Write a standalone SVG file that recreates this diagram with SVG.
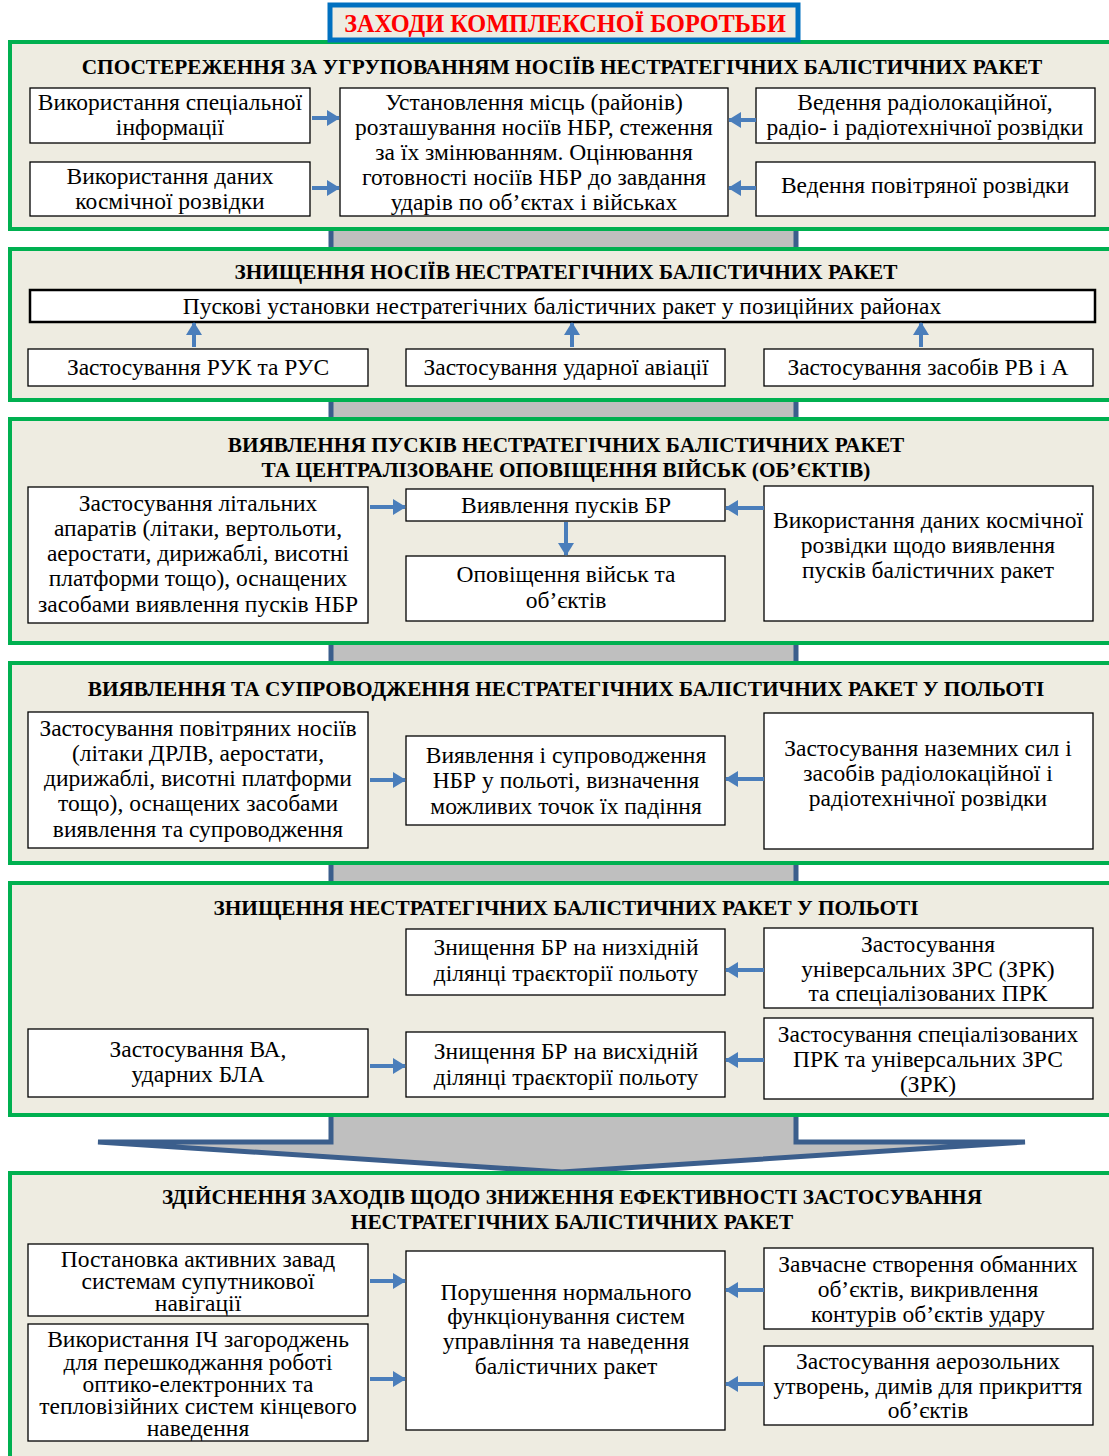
<svg xmlns="http://www.w3.org/2000/svg" width="1109" height="1456" viewBox="0 0 1109 1456">
<defs>
<style>
.panel{fill:#EEECE1;stroke:#00B050;stroke-width:4}
.box{fill:#fff;stroke:#000;stroke-width:1.3}
.t{font-family:"Liberation Serif","Times New Roman",serif;font-size:23.5px;text-anchor:middle;fill:#000}
.h{font-family:"Liberation Serif","Times New Roman",serif;font-size:21.3px;font-weight:bold;text-anchor:middle;fill:#000}
.c{stroke:#4A7EBB;stroke-width:4;fill:none;marker-end:url(#ah)}
</style>
<marker id="ah" markerUnits="userSpaceOnUse" markerWidth="14" markerHeight="16" refX="12" refY="8" orient="auto">
<path d="M0,0 L13,8 L0,16 Z" fill="#4A7EBB"/>
</marker>
</defs>
<rect width="1109" height="1456" fill="#fff"/>
<g id="shaft">
<path d="M331,40 L331,1142 L98,1142 L562,1172 L1025,1142 L796,1142 L796,40 Z" fill="#BFBFBF" stroke="#3B5E8C" stroke-width="5" stroke-linejoin="miter"/>
</g>
<g id="panel1">
<rect class="panel" x="10" y="42" width="1110" height="187"/>
<text class="h" x="562" y="74">СПОСТЕРЕЖЕННЯ ЗА УГРУПОВАННЯМ НОСІЇВ НЕСТРАТЕГІЧНИХ БАЛІСТИЧНИХ РАКЕТ</text>
</g>
<g id="title">
<rect x="330" y="5" width="468" height="35" fill="#EEECE1" stroke="#0070C0" stroke-width="5"/>
<text x="565" y="32" font-family="Liberation Serif, Times New Roman, serif" font-size="24.3" font-weight="bold" fill="#FF0000" text-anchor="middle">ЗАХОДИ КОМПЛЕКСНОЇ БОРОТЬБИ</text>
</g>
<g id="n1a"><rect class="box" x="30" y="88" width="280" height="55"/><text class="t" x="170" y="110">Використання спеціальної</text><text class="t" x="170" y="135">інформації</text></g>
<g id="n1b"><rect class="box" x="30" y="162" width="280" height="54"/><text class="t" x="170" y="184">Використання даних</text><text class="t" x="170" y="209">космічної розвідки</text></g>
<g id="n1c"><rect class="box" x="340" y="88" width="388" height="128"/>
<text class="t" x="534" y="110">Установлення місць (районів)</text>
<text class="t" x="534" y="135">розташування носіїв НБР, стеження</text>
<text class="t" x="534" y="160">за їх змінюванням. Оцінювання</text>
<text class="t" x="534" y="185">готовності носіїв НБР до завдання</text>
<text class="t" x="534" y="210">ударів по об’єктах і військах</text></g>
<g id="n1d"><rect class="box" x="756" y="88" width="339" height="55"/><text class="t" x="925" y="110">Ведення радіолокаційної,</text><text class="t" x="925" y="135">радіо- і радіотехнічної розвідки</text></g>
<g id="n1e"><rect class="box" x="756" y="162" width="339" height="54"/><text class="t" x="925" y="193">Ведення повітряної розвідки</text></g>

<g id="panel2">
<rect class="panel" x="10" y="249" width="1110" height="151"/>
<text class="h" x="566" y="279">ЗНИЩЕННЯ НОСІЇВ НЕСТРАТЕГІЧНИХ БАЛІСТИЧНИХ РАКЕТ</text>
</g>
<g id="n2a"><rect x="30" y="290" width="1065" height="32" fill="#fff" stroke="#000" stroke-width="2.5"/><text class="t" x="562" y="314">Пускові установки нестратегічних балістичних ракет у позиційних районах</text></g>
<g id="n2b"><rect class="box" x="28" y="349" width="340" height="37"/><text class="t" x="198" y="375">Застосування РУК та РУС</text></g>
<g id="n2c"><rect class="box" x="406" y="349" width="319" height="37"/><text class="t" x="566" y="375">Застосування ударної авіації</text></g>
<g id="n2d"><rect class="box" x="764" y="349" width="329" height="37"/><text class="t" x="928" y="375">Застосування засобів РВ і А</text></g>

<g id="panel3">
<rect class="panel" x="10" y="419" width="1110" height="224"/>
<text class="h" x="566" y="452">ВИЯВЛЕННЯ ПУСКІВ НЕСТРАТЕГІЧНИХ БАЛІСТИЧНИХ РАКЕТ</text>
<text class="h" x="566" y="477">ТА ЦЕНТРАЛІЗОВАНЕ ОПОВІЩЕННЯ ВІЙСЬК (ОБ’ЄКТІВ)</text>
</g>
<g id="n3a"><rect class="box" x="28" y="487" width="340" height="136"/>
<text class="t" x="198" y="511">Застосування літальних</text>
<text class="t" x="198" y="536">апаратів (літаки, вертольоти,</text>
<text class="t" x="198" y="561">аеростати, дирижаблі, висотні</text>
<text class="t" x="198" y="586">платформи тощо), оснащених</text>
<text class="t" x="198" y="612">засобами виявлення пусків НБР</text></g>
<g id="n3b"><rect class="box" x="406" y="489" width="319" height="32"/><text class="t" x="566" y="513">Виявлення пусків БР</text></g>
<g id="n3c"><rect class="box" x="406" y="556" width="319" height="65"/><text class="t" x="566" y="582">Оповіщення військ та</text><text class="t" x="566" y="608">об’єктів</text></g>
<g id="n3d"><rect class="box" x="764" y="486" width="329" height="135"/>
<text class="t" x="928" y="528">Використання даних космічної</text>
<text class="t" x="928" y="553">розвідки щодо виявлення</text>
<text class="t" x="928" y="578">пусків балістичних ракет</text></g>

<g id="panel4">
<rect class="panel" x="10" y="663" width="1110" height="200"/>
<text class="h" x="566" y="696">ВИЯВЛЕННЯ ТА СУПРОВОДЖЕННЯ НЕСТРАТЕГІЧНИХ БАЛІСТИЧНИХ РАКЕТ У ПОЛЬОТІ</text>
</g>
<g id="n4a"><rect class="box" x="28" y="712" width="340" height="136"/>
<text class="t" x="198" y="736">Застосування повітряних носіїв</text>
<text class="t" x="198" y="761">(літаки ДРЛВ, аеростати,</text>
<text class="t" x="198" y="786">дирижаблі, висотні платформи</text>
<text class="t" x="198" y="811">тощо), оснащених засобами</text>
<text class="t" x="198" y="837">виявлення та супроводження</text></g>
<g id="n4b"><rect class="box" x="406" y="736" width="319" height="89"/>
<text class="t" x="566" y="763">Виявлення і супроводження</text>
<text class="t" x="566" y="788">НБР у польоті, визначення</text>
<text class="t" x="566" y="814">можливих точок їх падіння</text></g>
<g id="n4c"><rect class="box" x="764" y="713" width="329" height="136"/>
<text class="t" x="928" y="756">Застосування наземних сил і</text>
<text class="t" x="928" y="781">засобів радіолокаційної і</text>
<text class="t" x="928" y="806">радіотехнічної розвідки</text></g>

<g id="panel5">
<rect class="panel" x="10" y="883" width="1110" height="232"/>
<text class="h" x="566" y="915">ЗНИЩЕННЯ НЕСТРАТЕГІЧНИХ БАЛІСТИЧНИХ РАКЕТ У ПОЛЬОТІ</text>
</g>
<g id="n5a"><rect class="box" x="406" y="929" width="319" height="66"/>
<text class="t" x="566" y="955">Знищення БР на низхідній</text>
<text class="t" x="566" y="981">ділянці траєкторії польоту</text></g>
<g id="n5b"><rect class="box" x="764" y="928" width="329" height="80"/>
<text class="t" x="928" y="952">Застосування</text>
<text class="t" x="928" y="977">універсальних ЗРС (ЗРК)</text>
<text class="t" x="928" y="1001">та спеціалізованих ПРК</text></g>
<g id="n5c"><rect class="box" x="28" y="1029" width="340" height="68"/>
<text class="t" x="198" y="1057">Застосування ВА,</text>
<text class="t" x="198" y="1082">ударних БЛА</text></g>
<g id="n5d"><rect class="box" x="406" y="1032" width="319" height="65"/>
<text class="t" x="566" y="1059">Знищення БР на висхідній</text>
<text class="t" x="566" y="1085">ділянці траєкторії польоту</text></g>
<g id="n5e"><rect class="box" x="764" y="1018" width="329" height="81"/>
<text class="t" x="928" y="1042">Застосування спеціалізованих</text>
<text class="t" x="928" y="1067">ПРК та універсальних ЗРС</text>
<text class="t" x="928" y="1092">(ЗРК)</text></g>

<g id="panel6">
<rect class="panel" x="10" y="1173" width="1110" height="300"/>
<text class="h" x="572" y="1204">ЗДІЙСНЕННЯ ЗАХОДІВ ЩОДО ЗНИЖЕННЯ ЕФЕКТИВНОСТІ ЗАСТОСУВАННЯ</text>
<text class="h" x="572" y="1229">НЕСТРАТЕГІЧНИХ БАЛІСТИЧНИХ РАКЕТ</text>
</g>
<g id="n6a"><rect class="box" x="28" y="1244" width="340" height="72"/>
<text class="t" x="198" y="1267">Постановка активних завад</text>
<text class="t" x="198" y="1289">системам супутникової</text>
<text class="t" x="198" y="1311">навігації</text></g>
<g id="n6b"><rect class="box" x="28" y="1324" width="340" height="117"/>
<text class="t" x="198" y="1347">Використання ІЧ загороджень</text>
<text class="t" x="198" y="1370">для перешкоджання роботі</text>
<text class="t" x="198" y="1392">оптико-електронних та</text>
<text class="t" x="198" y="1414">тепловізійних систем кінцевого</text>
<text class="t" x="198" y="1436">наведення</text></g>
<g id="n6c"><rect class="box" x="406" y="1251" width="319" height="179"/>
<text class="t" x="566" y="1300">Порушення нормального</text>
<text class="t" x="566" y="1324">функціонування систем</text>
<text class="t" x="566" y="1349">управління та наведення</text>
<text class="t" x="566" y="1374">балістичних ракет</text></g>
<g id="n6d"><rect class="box" x="764" y="1248" width="329" height="81"/>
<text class="t" x="928" y="1272">Завчасне створення обманних</text>
<text class="t" x="928" y="1297">об’єктів, викривлення</text>
<text class="t" x="928" y="1322">контурів об’єктів удару</text></g>
<g id="n6e"><rect class="box" x="764" y="1346" width="329" height="79"/>
<text class="t" x="928" y="1369">Застосування аерозольних</text>
<text class="t" x="928" y="1394">утворень, димів для прикриття</text>
<text class="t" x="928" y="1418">об’єктів</text></g>

<g id="connectors">
<path class="c" d="M312,118 L339,118"/>
<path class="c" d="M312,188 L339,188"/>
<path class="c" d="M756,120 L729,120"/>
<path class="c" d="M756,188 L729,188"/>
<path class="c" d="M194,347 L194,323"/>
<path class="c" d="M572,347 L572,323"/>
<path class="c" d="M921,347 L921,323"/>
<path class="c" d="M370,507 L405,507"/>
<path class="c" d="M764,508 L726,508"/>
<path class="c" d="M566,522 L566,555"/>
<path class="c" d="M370,780 L405,780"/>
<path class="c" d="M764,779 L726,779"/>
<path class="c" d="M764,970 L726,970"/>
<path class="c" d="M370,1066 L405,1066"/>
<path class="c" d="M764,1060 L726,1060"/>
<path class="c" d="M370,1281 L405,1281"/>
<path class="c" d="M370,1379 L405,1379"/>
<path class="c" d="M764,1290 L726,1290"/>
<path class="c" d="M764,1384 L726,1384"/>
</g>
</svg>
